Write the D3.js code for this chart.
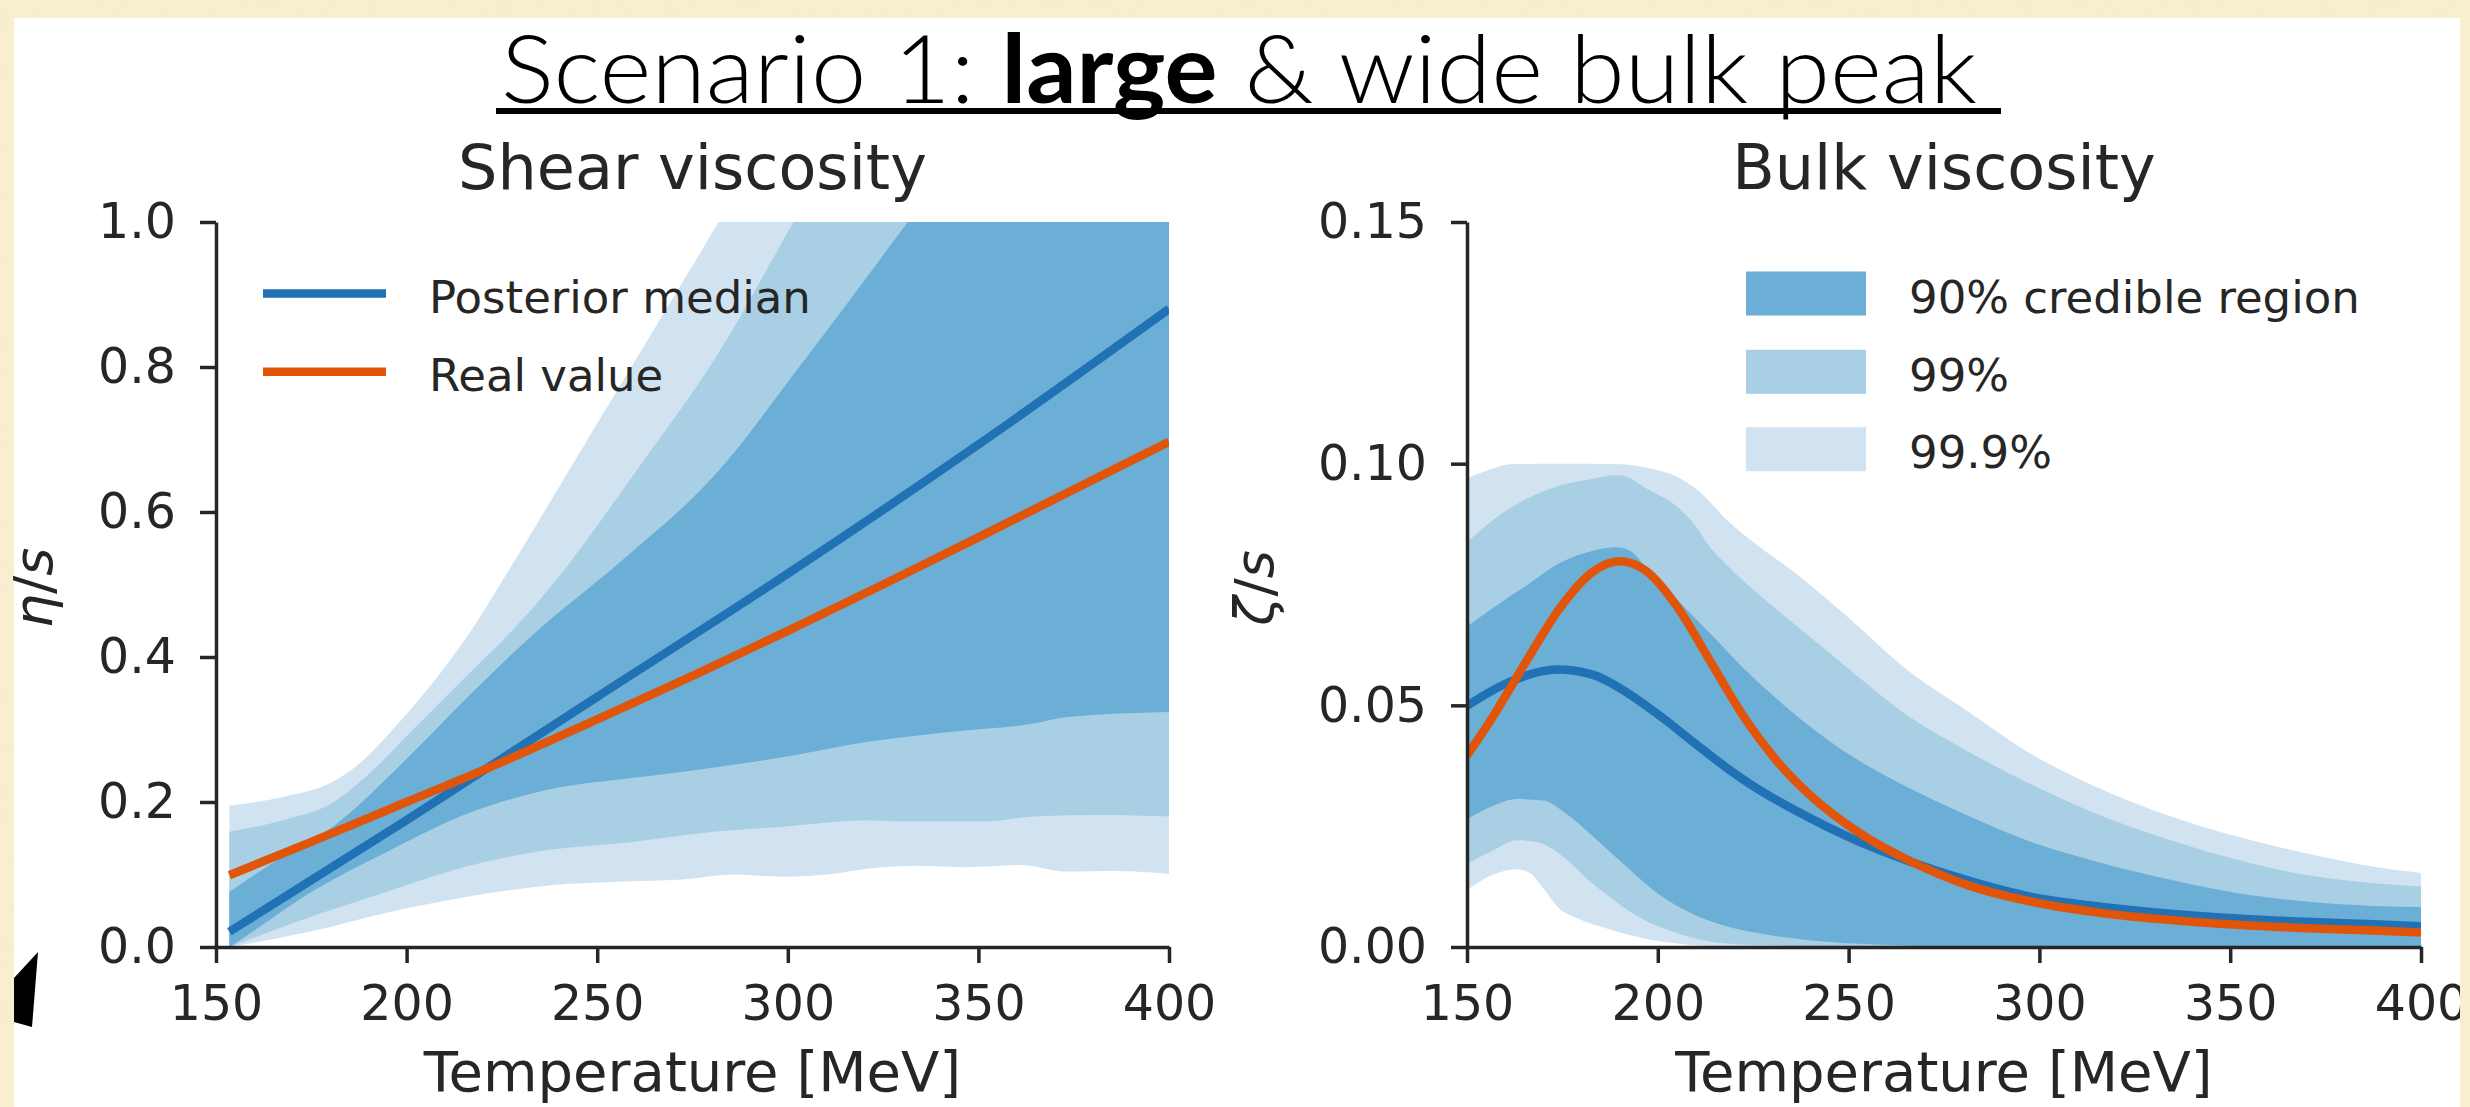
<!DOCTYPE html>
<html>
<head>
<meta charset="utf-8">
<script src="https://cdnjs.cloudflare.com/ajax/libs/d3/7.8.5/d3.min.js"></script>
<style>
  body { margin: 0; background: #f7efcf; }
  svg { display: block; }
</style>
</head>
<body>
<svg id="chart" width="2470" height="1107"></svg>
<script>
// ---- data: [temperature in MeV, value] ----
const xTicks = [150, 200, 250, 300, 350, 400];
const shearTicks = [0, 0.2, 0.4, 0.6, 0.8, 1.0];
const bulkTicks = [0, 0.05, 0.10, 0.15];

// shear viscosity eta/s
const shearMedian = [[153.5, 0.021], [200, 0.175], [250, 0.345], [300, 0.515], [350, 0.693], [400, 0.88]];
const shearReal = [[153.5, 0.099], [175, 0.145], [200, 0.2], [225, 0.255], [250, 0.314], [275, 0.374], [300, 0.436], [325, 0.5], [350, 0.565], [375, 0.631], [400, 0.697]];
const shear90Upper = [[153.5, 0.076], [167.5, 0.125], [180.6, 0.166], [198, 0.249], [214.7, 0.338], [233, 0.43], [256.7, 0.534], [281.2, 0.653], [303, 0.8], [331.5, 1.0], [400, 1.48]];
const shear90Lower = [[153.5, 0], [155, 0.005], [176, 0.079], [194, 0.129], [216, 0.184], [237, 0.217], [259, 0.233], [277, 0.245], [299, 0.262], [321, 0.283], [343, 0.297], [364, 0.308], [373, 0.317], [400, 0.324]];
const shear99Upper = [[153.5, 0.159], [167.5, 0.175], [180.6, 0.199], [189.3, 0.235], [202.5, 0.304], [215.6, 0.373], [228.7, 0.442], [239.2, 0.506], [260, 0.655], [281.2, 0.814], [301.5, 1.0], [400, 1.9]];
const shear99Lower = [[153.5, 0], [176.2, 0.044], [193.7, 0.074], [215.6, 0.111], [237.4, 0.134], [259.3, 0.145], [277, 0.157], [298.8, 0.166], [320.7, 0.175], [332, 0.173], [351, 0.173], [364.4, 0.18], [381.9, 0.182], [400, 0.18]];
const shear999Upper = [[153.5, 0.195], [167.5, 0.207], [180.6, 0.228], [186.7, 0.249], [195.5, 0.295], [206.8, 0.364], [216.5, 0.433], [225.2, 0.506], [250, 0.722], [281.2, 0.994], [300, 1.16], [400, 2.0]];
const shear999Lower = [[153.5, 0], [176.2, 0.023], [193.7, 0.046], [215.6, 0.069], [237.4, 0.085], [255, 0.09], [272.4, 0.093], [285.7, 0.1], [298.8, 0.097], [312, 0.101], [320.7, 0.108], [333.8, 0.112], [346.9, 0.11], [360.9, 0.113], [373.1, 0.104], [386.3, 0.105], [400, 0.101]];

// bulk viscosity zeta/s
const bulkMedian = [[150, 0.0499], [161.3, 0.0549], [173.5, 0.0574], [183.1, 0.0563], [191.8, 0.0527], [200.6, 0.0478], [209.3, 0.0424], [218, 0.0371], [226.8, 0.0324], [235.5, 0.0285], [244.3, 0.0249], [253, 0.0217], [266, 0.0177], [281.2, 0.0138], [299, 0.0102], [316.7, 0.0083], [334.4, 0.0069], [352.1, 0.0059], [369.9, 0.0052], [387.6, 0.0047], [400, 0.0043]];
const bulkReal = [[150, 0.0396], [156.9, 0.0478], [165.6, 0.0592], [174.4, 0.0702], [183.1, 0.0777], [190.1, 0.0798], [197.1, 0.0777], [204.9, 0.0706], [213.7, 0.0592], [222.4, 0.0478], [231.2, 0.0385], [239.9, 0.0314], [253, 0.0235], [266.1, 0.0178], [281.2, 0.0128], [299, 0.0092], [316.7, 0.007], [334.4, 0.0056], [352.1, 0.0046], [369.9, 0.0039], [387.6, 0.0034], [400, 0.003]];
const bulk90Upper = [[150, 0.0663], [156.9, 0.0702], [165.6, 0.0748], [174.4, 0.0795], [183.1, 0.082], [189.2, 0.0827], [192.7, 0.082], [197.1, 0.0784], [204.9, 0.072], [213.7, 0.0649], [222.4, 0.0577], [231.2, 0.0513], [239.9, 0.0456], [248.6, 0.0406], [257.4, 0.0364], [266.1, 0.0328], [281.2, 0.0272], [299, 0.0214], [316.7, 0.0173], [334.4, 0.0139], [352.1, 0.0111], [369.9, 0.0094], [387.6, 0.0085], [400, 0.0083]];
const bulk90Lower = [[150, 0.0264], [156.9, 0.0292], [163, 0.0306], [170, 0.0303], [176.1, 0.0275], [183.1, 0.0228], [191.8, 0.0166], [200.6, 0.0107], [209.3, 0.0068], [218, 0.0043], [226.8, 0.0028], [244.3, 0.0011], [261.7, 0.0004], [280, 0], [400, 0]];
const bulk99Upper = [[150, 0.0837], [156.9, 0.0884], [165.6, 0.0927], [174.4, 0.0955], [183.1, 0.0969], [189.2, 0.0976], [191.8, 0.0973], [197.1, 0.0948], [204.9, 0.0912], [209.3, 0.0877], [213.7, 0.0827], [218, 0.0791], [226.8, 0.0727], [235.5, 0.067], [244.3, 0.0613], [253, 0.0556], [263.5, 0.049], [281.2, 0.0405], [299, 0.0332], [316.7, 0.027], [334.4, 0.0221], [352.1, 0.018], [369.9, 0.0149], [387.6, 0.0132], [400, 0.0125]];
const bulk99Lower = [[150, 0.0171], [156.9, 0.02], [163, 0.0221], [168.3, 0.0217], [177, 0.0175], [182, 0.0137], [185.7, 0.0114], [194.5, 0.0064], [204.9, 0.0029], [218, 0.0007], [235, 0.0002], [245, 0], [400, 0]];
const bulk999Upper = [[150, 0.097], [156.9, 0.099], [161.3, 0.0999], [174.4, 0.1], [190.1, 0.0999], [198, 0.099], [205, 0.0973], [211.1, 0.0941], [218, 0.0884], [226.8, 0.0827], [235.5, 0.0777], [244.3, 0.072], [253, 0.066], [263.5, 0.0585], [281.2, 0.0488], [299, 0.0394], [316.7, 0.0325], [334.4, 0.027], [352.1, 0.0228], [369.9, 0.0194], [387.6, 0.0166], [400, 0.0153]];
const bulk999Lower = [[150, 0.0118], [156.9, 0.015], [163, 0.0161], [166.5, 0.0153], [170, 0.0121], [174.4, 0.0078], [178.7, 0.006], [187.5, 0.0036], [196.2, 0.0018], [205, 0.0007], [218, 0.0001], [226, 0], [400, 0]];

const bandLabels = ["90% credible region", "99%", "99.9%"];
const lineLabels = ["Posterior median", "Real value"];

// ---- style ----
const W = 2470, H = 1107;
const plotTop = 222, plotBottom = 947;
const ink = "#262626";
const paper = "#f7efcf";
const font = "'DejaVu Sans', sans-serif";
const colors = { c90: "#6baed6", c99: "#a9cfe5", c999: "#d1e2f1", median: "#2171b5", real: "#e1550a" };

const svg = d3.select("#chart");

// paper background with a faint grain
const grain = svg.append("defs").append("filter").attr("id", "grain");
grain.append("feTurbulence")
    .attr("type", "fractalNoise").attr("baseFrequency", 0.09).attr("numOctaves", 2).attr("seed", 3);
grain.append("feColorMatrix")
    .attr("type", "matrix")
    .attr("values", "0 0 0 0 0.88  0 0 0 0 0.80  0 0 0 0 0.60  1.6 0 0 0 -0.75");

svg.append("rect").attr("width", W).attr("height", H).attr("fill", paper);
svg.append("rect").attr("width", W).attr("height", H).attr("filter", "url(#grain)").attr("opacity", 0.35);
svg.append("rect").attr("x", 14).attr("y", 18).attr("width", 2446).attr("height", H - 18).attr("fill", "#fff");

// main title
const title = svg.append("text")
    .attr("x", 1239)
    .attr("y", 103)
    .attr("text-anchor", "middle")
    .attr("textLength", 1476)
    .attr("lengthAdjust", "spacingAndGlyphs")
    .style("font-family", "Lato, 'Open Sans', sans-serif")
    .style("font-size", "95px")
    .style("font-weight", 300)
    .attr("fill", "#000");
title.append("tspan").text("Scenario 1: ");
title.append("tspan").style("font-weight", 700).text("large");
title.append("tspan").text(" & wide bulk peak");

svg.append("line")
    .attr("x1", 496).attr("x2", 2001)
    .attr("y1", 111).attr("y2", 111)
    .attr("stroke", "#000")
    .attr("stroke-width", 6);

function drawPanel(opt) {
    const x = d3.scaleLinear().domain([150, 400]).range([opt.left, opt.right]);
    const y = d3.scaleLinear().domain(opt.yDomain).range([plotBottom, plotTop]);

    const clipId = "clip-" + opt.name;
    svg.append("clipPath").attr("id", clipId)
        .append("rect")
        .attr("x", opt.left).attr("y", plotTop)
        .attr("width", opt.right - opt.left).attr("height", plotBottom - plotTop);

    const line = d3.line()
        .x(d => x(d[0]))
        .y(d => y(d[1]))
        .curve(d3.curveMonotoneX);

    const bandPath = (upper, lower) =>
        line(upper) + line(lower.slice().reverse()).replace(/^M/, "L") + "Z";

    const plot = svg.append("g").attr("clip-path", `url(#${clipId})`);

    // credible regions, widest first
    opt.bands.forEach(b => {
        plot.append("path")
            .attr("d", bandPath(b.upper, b.lower))
            .attr("fill", b.color);
    });

    opt.lines.forEach(l => {
        plot.append("path")
            .attr("d", line(l.data))
            .attr("fill", "none")
            .attr("stroke", l.color)
            .attr("stroke-width", 8.5);
    });

    // axes
    const xAxis = svg.append("g")
        .attr("transform", `translate(0,${plotBottom})`)
        .call(d3.axisBottom(x).tickValues(xTicks).tickSize(16).tickPadding(22).tickSizeOuter(0));

    const yAxis = svg.append("g")
        .attr("transform", `translate(${opt.left},0)`)
        .call(d3.axisLeft(y).tickValues(opt.yTicks).tickFormat(d3.format(opt.fmt))
            .tickSize(16).tickPadding(24).tickSizeOuter(0));

    [xAxis, yAxis].forEach(a => {
        a.attr("font-family", font).attr("font-size", 49);
        a.selectAll("path, line").attr("stroke", ink).attr("stroke-width", 3.5);
        a.selectAll("text").attr("fill", ink);
    });

    // subplot title
    svg.append("text")
        .attr("x", (opt.left + opt.right) / 2)
        .attr("y", 189)
        .attr("text-anchor", "middle")
        .style("font-family", font)
        .style("font-size", "62px")
        .attr("fill", ink)
        .text(opt.title);

    // x label
    svg.append("text")
        .attr("x", (opt.left + opt.right) / 2)
        .attr("y", 1091)
        .attr("text-anchor", "middle")
        .style("font-family", font)
        .style("font-size", "56px")
        .attr("fill", ink)
        .text("Temperature [MeV]");

    // y label (math italic)
    const yl = svg.append("text")
        .attr("transform", `translate(${opt.ylabelX},588) rotate(-90)`)
        .attr("text-anchor", "middle")
        .style("font-family", font)
        .style("font-size", "54px")
        .attr("fill", ink);
    yl.append("tspan").style("font-style", "italic").text(opt.ylabel);
    yl.append("tspan").text("/");
    yl.append("tspan").style("font-style", "italic").text("s");

    return { x, y };
}

drawPanel({
    name: "shear",
    left: 216, right: 1169,
    yDomain: [0, 1], yTicks: shearTicks, fmt: ".1f",
    title: "Shear viscosity", ylabel: "η", ylabelX: 52,
    bands: [
        { upper: shear999Upper, lower: shear999Lower, color: colors.c999 },
        { upper: shear99Upper, lower: shear99Lower, color: colors.c99 },
        { upper: shear90Upper, lower: shear90Lower, color: colors.c90 }
    ],
    lines: [
        { data: shearMedian, color: colors.median },
        { data: shearReal, color: colors.real }
    ]
});

drawPanel({
    name: "bulk",
    left: 1467, right: 2421,
    yDomain: [0, 0.15], yTicks: bulkTicks, fmt: ".2f",
    title: "Bulk viscosity", ylabel: "ζ", ylabelX: 1273,
    bands: [
        { upper: bulk999Upper, lower: bulk999Lower, color: colors.c999 },
        { upper: bulk99Upper, lower: bulk99Lower, color: colors.c99 },
        { upper: bulk90Upper, lower: bulk90Lower, color: colors.c90 }
    ],
    lines: [
        { data: bulkMedian, color: colors.median },
        { data: bulkReal, color: colors.real }
    ]
});

// legends
const rowY = [293.5, 371.8, 449.2];

const lineLegend = svg.append("g")
    .selectAll("g")
    .data(lineLabels)
    .join("g")
    .attr("transform", (d, i) => `translate(0,${rowY[i]})`);
lineLegend.append("line")
    .attr("x1", 263).attr("x2", 386)
    .attr("stroke", (d, i) => i === 0 ? colors.median : colors.real)
    .attr("stroke-width", 8.5);
lineLegend.append("text")
    .attr("x", 429).attr("y", 19)
    .style("font-family", font).style("font-size", "45px")
    .attr("fill", ink)
    .text(d => d);

const bandColors = [colors.c90, colors.c99, colors.c999];
const bandLegend = svg.append("g")
    .selectAll("g")
    .data(bandLabels)
    .join("g")
    .attr("transform", (d, i) => `translate(0,${rowY[i]})`);
bandLegend.append("rect")
    .attr("x", 1746).attr("y", -22)
    .attr("width", 120).attr("height", 44)
    .attr("fill", (d, i) => bandColors[i]);
bandLegend.append("text")
    .attr("x", 1909).attr("y", 19)
    .style("font-family", font).style("font-size", "45px")
    .attr("fill", ink)
    .text(d => d);

// stray black mark at the left edge of the sheet
svg.append("path")
    .attr("d", "M14,978L38,952L32,1027L14,1022Z")
    .attr("fill", "#000");

// right paper border covers the sheet edge
svg.append("rect").attr("x", 2460).attr("y", 0).attr("width", 10).attr("height", H).attr("fill", paper);
</script>
</body>
</html>
